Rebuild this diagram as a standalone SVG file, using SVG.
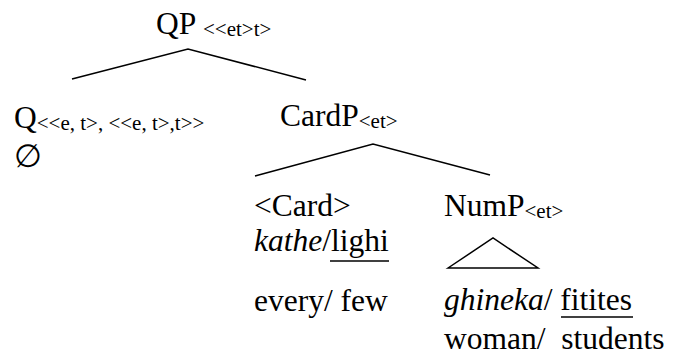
<svg xmlns="http://www.w3.org/2000/svg" width="673" height="358" viewBox="0 0 673 358">
<style>
.t{font-family:"Liberation Serif","Times New Roman",serif;font-size:31.5px;fill:#000}
.s{font-size:21px}
.i{font-style:italic}
.ln{stroke:#000;stroke-width:1.5;fill:none}
</style>
<rect width="673" height="358" fill="#fff"/>
<g id="connectors">
<polyline class="ln" points="72,79 188,49 306,80"/>
<polyline class="ln" points="255,176 373,144 490,175"/>
<polygon class="ln" points="448,268 493,238 538,268"/>
</g>
<g id="QP"><text class="t" x="156" y="34">QP <tspan class="s" dy="2">&lt;&lt;et&gt;t&gt;</tspan></text></g>
<g id="Q"><text class="t" x="14" y="128">Q<tspan class="s" dy="2">&lt;&lt;e, t&gt;, &lt;&lt;e, t&gt;,t&gt;&gt;</tspan></text>
<text class="t" x="14" y="167">∅</text></g>
<g id="CardP"><text class="t" x="280" y="126">CardP<tspan class="s" dy="2">&lt;et&gt;</tspan></text></g>
<g id="Card"><text class="t" x="254" y="216">&lt;Card&gt;</text>
<text class="t" x="254" y="251"><tspan class="i">kathe</tspan>/lighi</text>
<text class="t" x="254" y="311">every/ few</text></g>
<g id="NumP"><text class="t" x="444" y="216">NumP<tspan class="s" dy="2">&lt;et&gt;</tspan></text>
<text class="t" x="444" y="310"><tspan class="i">ghineka</tspan>/ fitites</text>
<text class="t" x="444" y="349" xml:space="preserve">woman/  students</text></g>
<g id="underlines">
<line class="ln" x1="330" y1="261" x2="389" y2="261"/>
<line class="ln" x1="561" y1="317" x2="633" y2="317"/>
</g>
</svg>
